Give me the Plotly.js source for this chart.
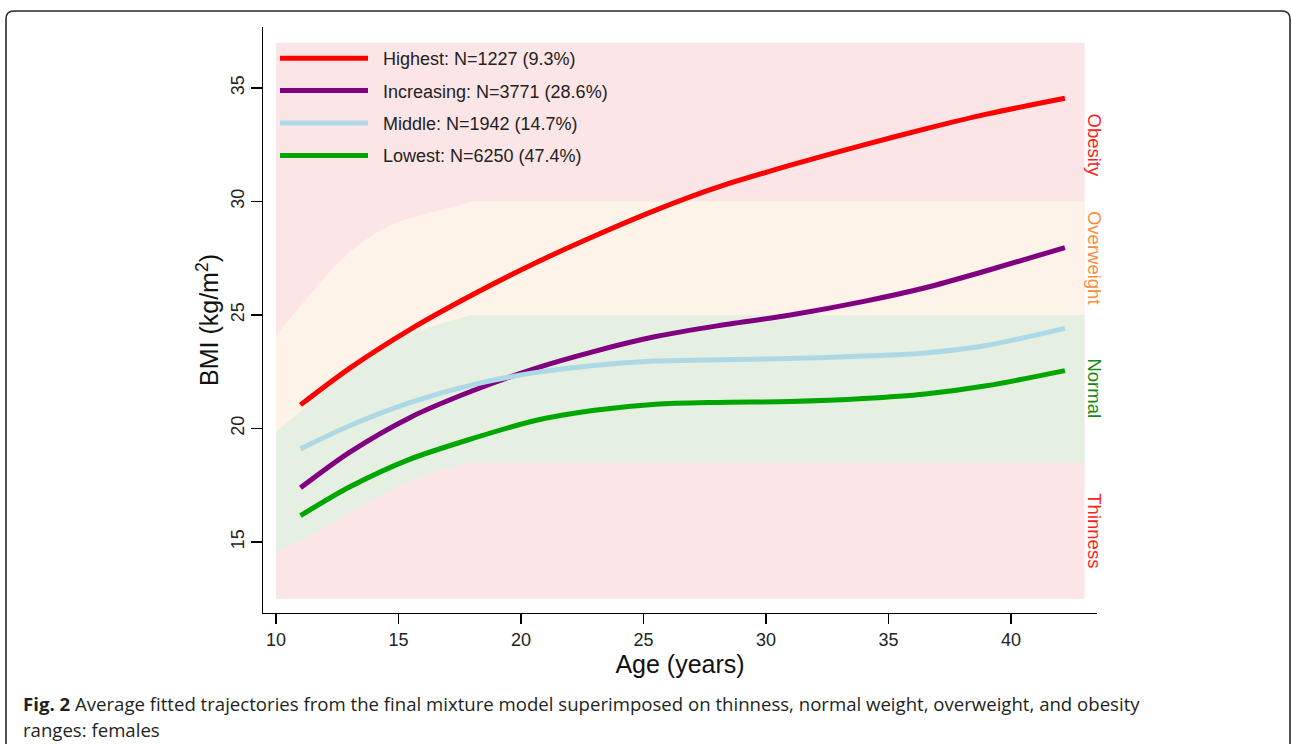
<!DOCTYPE html>
<html>
<head>
<meta charset="utf-8">
<script src="https://cdn.plot.ly/plotly-3.0.1.min.js"></script>
<style>
  html, body { margin: 0; padding: 0; background: #ffffff; }
  #chart { width: 1292px; height: 744px; }
</style>
</head>
<body>
<div id="chart"></div>
<script>
// ---- Trajectory data (age in years, BMI kg/m^2) ----
const ages = [11, 13, 15.5, 18, 20.5, 23, 25.5, 28, 31, 34, 36.5, 39, 42.2];
const highest    = [21.04, 22.65, 24.38, 25.88, 27.25, 28.48, 29.62, 30.62, 31.6, 32.5, 33.2, 33.85, 34.55];
const increasing = [17.39, 18.95, 20.5, 21.65, 22.62, 23.4, 24.05, 24.52, 25.0, 25.6, 26.2, 26.95, 27.97];
const middle     = [19.1, 20.12, 21.15, 21.92, 22.45, 22.78, 22.97, 23.03, 23.08, 23.19, 23.33, 23.66, 24.41];
const lowest     = [16.16, 17.42, 18.66, 19.55, 20.33, 20.8, 21.07, 21.15, 21.19, 21.32, 21.52, 21.88, 22.55];
const seriesNames = ['Highest: N=1227 (9.3%)', 'Increasing: N=3771 (28.6%)', 'Middle: N=1942 (14.7%)', 'Lowest: N=6250 (47.4%)'];

// ---- BMI category cut-offs (females) ----
const bandAges = [10, 10.5, 11, 11.5, 12, 12.5, 13, 13.5, 14, 14.5, 15, 15.5, 16, 16.5, 17, 17.5, 18, 43];
const cut30  = [24.11, 24.77, 25.42, 26.05, 26.67, 27.24, 27.76, 28.20, 28.57, 28.87, 29.11, 29.29, 29.43, 29.56, 29.69, 29.84, 30.0, 30.0];
const cut25  = [19.86, 20.29, 20.74, 21.20, 21.68, 22.14, 22.58, 22.98, 23.34, 23.66, 23.94, 24.17, 24.37, 24.54, 24.70, 24.85, 25.0, 25.0];
const cut185 = [14.61, 14.81, 15.05, 15.32, 15.62, 15.93, 16.26, 16.57, 16.88, 17.18, 17.45, 17.69, 17.91, 18.09, 18.25, 18.38, 18.5, 18.5];
const shadeX = [10, 43];
const shadeLow = [12.5, 12.5];
const shadeHigh = [37, 37];
const bandNames = ['Obesity', 'Overweight', 'Normal', 'Thinness'];

const xTicks = [10, 15, 20, 25, 30, 35, 40];
const yTicks = [15, 20, 25, 30, 35];

const PINK = 'rgb(252,229,230)';
const CREAM = 'rgb(253,243,232)';
const GREENBG = 'rgb(229,240,227)';

const noLine = {width: 0, color: 'rgba(0,0,0,0)'};
const bg = (x, y, fill, color) => ({
  x: x, y: y, type: 'scatter', mode: 'lines', line: noLine,
  fill: fill, fillcolor: color, showlegend: false, hoverinfo: 'skip'
});

const traces = [
  bg(shadeX, shadeLow, 'none', null),
  bg(shadeX, shadeHigh, 'tonexty', PINK),
  bg(bandAges, cut25, 'none', null),
  bg(bandAges, cut30, 'tonexty', CREAM),
  bg(bandAges, cut185, 'none', null),
  bg(bandAges, cut25, 'tonexty', GREENBG)
];

const lineColors = ['#ff0000', '#800080', '#add8e6', '#00a600'];
[highest, increasing, middle, lowest].forEach((vals, i) => {
  traces.push({
    x: ages, y: vals, type: 'scatter', mode: 'lines',
    name: '\u00a0\u00a0' + seriesNames[i], legendgroup: 'g' + i,
    line: {color: lineColors[i], width: 5, shape: 'spline', smoothing: 0.8}
  });
});

// plot area: x 263..1097 px, y 27..613 px
const PL = 263, PR = 1097, PT = 27, PB = 613;
const px = v => (v - PL) / (PR - PL);
const py = v => (PB - v) / (PB - PT);

const L = px(6), R = px(1290), T = py(11), B = py(780);
const rx = 8 / (PR - PL), ry = 8 / (PB - PT);
const framePath = `M ${L},${B} L ${L},${T - ry} Q ${L},${T} ${L + rx},${T} L ${R - rx},${T} Q ${R},${T} ${R},${T - ry} L ${R},${B}`;

const labelColors = ['#ff2020', '#ff8c3a', '#138a13', '#ff2020'];
const labelY = [32.5, 27.5, 21.75, 15.5];
const annotations = bandNames.map((t, i) => ({
  x: 43.4, y: labelY[i], xref: 'x', yref: 'y', text: t, showarrow: false,
  textangle: 90, font: {family: 'Liberation Sans, Arial, sans-serif', size: 18.5, color: labelColors[i]},
  xanchor: 'center', yanchor: 'middle'
}));
const capFont = {family: 'Open Sans, Noto Sans, sans-serif', size: 18.6, color: '#231f20'};
annotations.push({
  x: px(21), y: py(703), xref: 'paper', yref: 'paper', xanchor: 'left', yanchor: 'middle',
  showarrow: false, align: 'left',
  text: '<b>Fig. 2</b> Average fitted trajectories from the final mixture model superimposed on thinness, normal weight, overweight, and obesity',
  font: capFont
});
annotations.push({
  x: px(21), y: py(729), xref: 'paper', yref: 'paper', xanchor: 'left', yanchor: 'middle',
  showarrow: false, align: 'left',
  text: 'ranges: females',
  font: capFont
});

const axisFont = {family: 'Liberation Sans, Arial, sans-serif', size: 18, color: '#222'};

const layout = {
  width: 1292, height: 744,
  margin: {l: PL, r: 1292 - PR, t: PT, b: 744 - PB, pad: 0},
  paper_bgcolor: '#ffffff', plot_bgcolor: '#ffffff',
  showlegend: true,
  legend: {
    x: px(275), y: py(40), xanchor: 'left', yanchor: 'top',
    bgcolor: 'rgba(0,0,0,0)', borderwidth: 0,
    font: {family: 'Liberation Sans, Arial, sans-serif', size: 18, color: '#222'},
    itemwidth: 88, traceorder: 'grouped', tracegroupgap: 6
  },
  xaxis: {
    range: [9.47, 43.51], tickvals: xTicks, ticktext: xTicks.map(String),
    showgrid: false, zeroline: false, showline: true, linecolor: '#000', linewidth: 1.3,
    ticks: 'outside', ticklen: 10, tickcolor: '#000', tickwidth: 1.3,
    tickfont: axisFont,
    title: {text: 'Age (years)', font: {family: 'Liberation Sans, Arial, sans-serif', size: 25, color: '#111'}, standoff: 1}
  },
  yaxis: {
    range: [11.87, 37.69], tickvals: yTicks, ticktext: yTicks.map(String),
    showgrid: false, zeroline: false, showline: true, linecolor: '#000', linewidth: 1.3,
    ticks: 'outside', ticklen: 11, tickcolor: '#000', tickwidth: 1.3,
    tickangle: -90, tickfont: axisFont,
    title: {text: 'BMI (kg/m<sup>2</sup>)', font: {family: 'Liberation Sans, Arial, sans-serif', size: 25, color: '#111'}, standoff: 1}
  },
  shapes: [{
    type: 'path', xref: 'paper', yref: 'paper', path: framePath,
    line: {color: '#2a2a2a', width: 1.6}, layer: 'above'
  }],
  annotations: annotations
};

Plotly.newPlot('chart', traces, layout, {displayModeBar: false, staticPlot: true});
</script>
</body>
</html>
